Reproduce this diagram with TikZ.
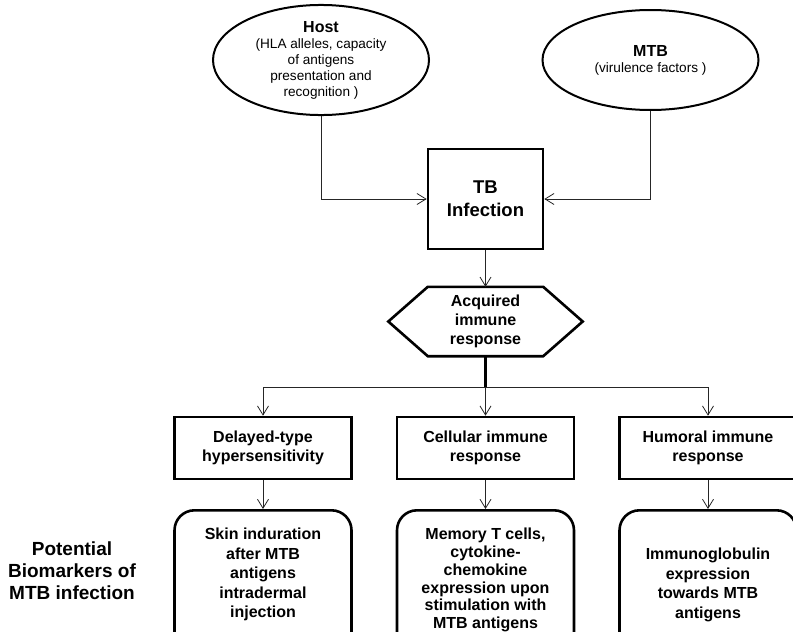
\documentclass[tikz,border=0pt]{standalone}
\usepackage{fontspec}
\setmainfont{Liberation Sans}
\usetikzlibrary{shapes.geometric,arrows.meta}

\tikzset{
	factor/.style={ellipse, draw, line width=2pt, minimum width=216pt, minimum height=100pt, inner sep=0pt, align=center, font=\fontsize{13.6}{16}\selectfont},
	stagebox/.style={rectangle, draw, line width=2.6pt, minimum width=177pt, minimum height=62pt, align=center, font=\fontsize{16}{19.5}\selectfont\bfseries},
	markbox/.style={rectangle, draw, rounded corners=20pt, line width=2.6pt, minimum width=177pt, minimum height=200pt, anchor=north},
	marktext/.style={align=center, font=\fontsize{16}{19.5}\selectfont\bfseries},
	link/.style={->, line width=0.8pt, black!85},
}

\begin{document}
\begin{tikzpicture}[x=1pt, y=-1pt, >={Straight Barb[length=9pt,width=11pt]}]
		\useasboundingbox (0,0) rectangle (793,632);
		\clip (0,0) rectangle (793,632);
		%Host and MTB
		\node[factor] (host) at (321,60) {{\fontsize{16}{18}\selectfont\bfseries Host}\\(HLA alleles, capacity\\of antigens\\presentation and\\recognition )};
		\node[factor] (mtb) at (650.5,60) {{\fontsize{16}{20}\selectfont\bfseries MTB}\\(virulence factors )};
		%TB infection
		\node[rectangle, draw, line width=2.6pt, minimum width=115pt, minimum height=100pt, align=center, font=\fontsize{18.5}{23}\selectfont\bfseries] (tb) at (485.5,199) {TB\\Infection};
		\draw[link] (host.south) |- (tb.west);
		\draw[link] (mtb.south) |- (tb.east);
		%Acquired immune response
		\node[minimum width=115pt, minimum height=69pt, align=center, font=\fontsize{16}{19}\selectfont\bfseries] (acq) at (485.5,321.5) {Acquired\\immune\\response};
		\draw[line width=2.6pt] (acq.north west) -- (acq.north east) -- ([xshift=39.5pt]acq.east) -- (acq.south east) -- (acq.south west) -- ([xshift=-39.5pt]acq.west) -- cycle;
		\draw[link] (tb.south) -- (acq.north);
		\coordinate (branch) at (485.5,387);
		\draw[line width=2.6pt] (acq.south) -- (branch);
		%responses
		\node[stagebox] (dth) at (263,448) {Delayed-type\\hypersensitivity};
		\node[stagebox] (cel) at (485.5,448) {Cellular immune\\response};
		\node[stagebox] (hum) at (708,448) {Humoral immune\\response};
		\draw[link] (branch) -| (dth.north);
		\draw[link] (branch) -| (hum.north);
		\draw[link] (branch) -- (cel.north);
		%biomarkers
		\node[markbox] (skinbox) at (263,509) {};
		\node[markbox] (cellbox) at (485.5,509) {};
		\node[markbox] (igbox) at (708,509) {};
		\node[marktext] (skin) at (263,574.5) {Skin induration\\after MTB\\antigens\\intradermal\\injection};
		\node[marktext, font=\fontsize{16}{17.8}\selectfont\bfseries] (cell) at (485.5,580) {Memory T cells,\\cytokine-\\chemokine\\expression upon\\stimulation with\\MTB antigens};
		\node[marktext] (ig) at (708,585) {Immunoglobulin\\expression\\towards MTB\\antigens};
		\draw[link] (dth.south) -- (skinbox.north);
		\draw[link] (cel.south) -- (cellbox.north);
		\draw[link] (hum.south) -- (igbox.north);
		\node[align=center, font=\fontsize{19}{22}\selectfont\bfseries] (biomark) at (72,571) {Potential\\Biomarkers of\\MTB infection};
	\end{tikzpicture}
\end{document}
